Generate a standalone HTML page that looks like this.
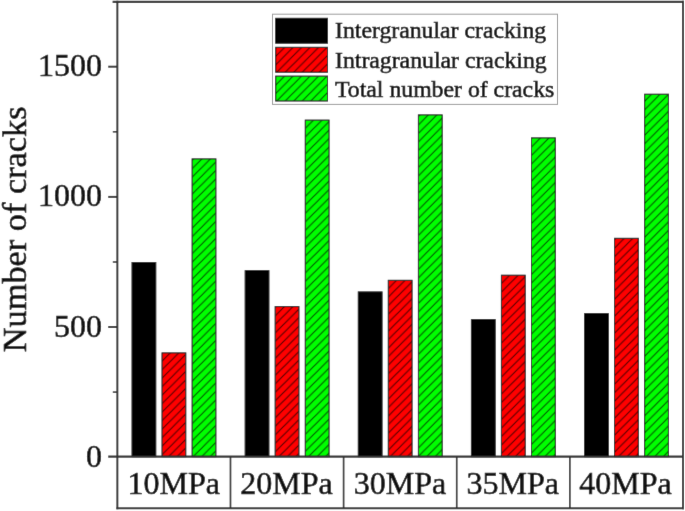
<!DOCTYPE html>
<html>
<head>
<meta charset="utf-8">
<style>
html,body{margin:0;padding:0;background:#fff;}
body{width:685px;height:511px;overflow:hidden;}
svg{display:block;}
#wrap{width:685px;height:511px;}
text{font-family:"Liberation Serif",serif;fill:#111;stroke:#111;stroke-width:0.6px;}
</style>
</head>
<body><div id="wrap">
<svg width="685" height="511" viewBox="0 0 685 511">
<defs>
<filter id="bl" filterUnits="userSpaceOnUse" x="-10" y="-10" width="705" height="531"><feConvolveMatrix order="3" kernelMatrix="0.0052 0.0619 0.0052 0.0619 0.7314 0.0619 0.0052 0.0619 0.0052" edgeMode="duplicate" preserveAlpha="true"/></filter>
<pattern id="p01" patternUnits="userSpaceOnUse" width="8.5" height="8.5" patternTransform="translate(162.31,352.40)"><rect width="8.5" height="8.5" fill="#ff0000"/><path d="M-1,9.5 L9.5,-1 M-4.25,4.25 L4.25,-4.25 M4.25,12.75 L12.75,4.25" stroke="#000" stroke-width="1.1" stroke-opacity="0.72"/></pattern>
<pattern id="p02" patternUnits="userSpaceOnUse" width="8.5" height="8.5" patternTransform="translate(192.41,159.90)"><rect width="8.5" height="8.5" fill="#00ff00"/><path d="M-1,9.5 L9.5,-1 M-4.25,4.25 L4.25,-4.25 M4.25,12.75 L12.75,4.25" stroke="#000" stroke-width="1.1" stroke-opacity="0.72"/></pattern>
<pattern id="p11" patternUnits="userSpaceOnUse" width="8.5" height="8.5" patternTransform="translate(275.44,307.10)"><rect width="8.5" height="8.5" fill="#ff0000"/><path d="M-1,9.5 L9.5,-1 M-4.25,4.25 L4.25,-4.25 M4.25,12.75 L12.75,4.25" stroke="#000" stroke-width="1.1" stroke-opacity="0.72"/></pattern>
<pattern id="p12" patternUnits="userSpaceOnUse" width="8.5" height="8.5" patternTransform="translate(305.55,119.60)"><rect width="8.5" height="8.5" fill="#00ff00"/><path d="M-1,9.5 L9.5,-1 M-4.25,4.25 L4.25,-4.25 M4.25,12.75 L12.75,4.25" stroke="#000" stroke-width="1.1" stroke-opacity="0.72"/></pattern>
<pattern id="p21" patternUnits="userSpaceOnUse" width="8.5" height="8.5" patternTransform="translate(388.57,279.80)"><rect width="8.5" height="8.5" fill="#ff0000"/><path d="M-1,9.5 L9.5,-1 M-4.25,4.25 L4.25,-4.25 M4.25,12.75 L12.75,4.25" stroke="#000" stroke-width="1.1" stroke-opacity="0.72"/></pattern>
<pattern id="p22" patternUnits="userSpaceOnUse" width="8.5" height="8.5" patternTransform="translate(418.68,116.10)"><rect width="8.5" height="8.5" fill="#00ff00"/><path d="M-1,9.5 L9.5,-1 M-4.25,4.25 L4.25,-4.25 M4.25,12.75 L12.75,4.25" stroke="#000" stroke-width="1.1" stroke-opacity="0.72"/></pattern>
<pattern id="p31" patternUnits="userSpaceOnUse" width="8.5" height="8.5" patternTransform="translate(501.70,274.70)"><rect width="8.5" height="8.5" fill="#ff0000"/><path d="M-1,9.5 L9.5,-1 M-4.25,4.25 L4.25,-4.25 M4.25,12.75 L12.75,4.25" stroke="#000" stroke-width="1.1" stroke-opacity="0.72"/></pattern>
<pattern id="p32" patternUnits="userSpaceOnUse" width="8.5" height="8.5" patternTransform="translate(531.80,138.10)"><rect width="8.5" height="8.5" fill="#00ff00"/><path d="M-1,9.5 L9.5,-1 M-4.25,4.25 L4.25,-4.25 M4.25,12.75 L12.75,4.25" stroke="#000" stroke-width="1.1" stroke-opacity="0.72"/></pattern>
<pattern id="p41" patternUnits="userSpaceOnUse" width="8.5" height="8.5" patternTransform="translate(614.83,239.30)"><rect width="8.5" height="8.5" fill="#ff0000"/><path d="M-1,9.5 L9.5,-1 M-4.25,4.25 L4.25,-4.25 M4.25,12.75 L12.75,4.25" stroke="#000" stroke-width="1.1" stroke-opacity="0.72"/></pattern>
<pattern id="p42" patternUnits="userSpaceOnUse" width="8.5" height="8.5" patternTransform="translate(644.93,92.40)"><rect width="8.5" height="8.5" fill="#00ff00"/><path d="M-1,9.5 L9.5,-1 M-4.25,4.25 L4.25,-4.25 M4.25,12.75 L12.75,4.25" stroke="#000" stroke-width="1.1" stroke-opacity="0.72"/></pattern>
<pattern id="lr" patternUnits="userSpaceOnUse" width="8.5" height="8.5" patternTransform="translate(276.00,47.50)"><rect width="8.5" height="8.5" fill="#ff0000"/><path d="M-1,9.5 L9.5,-1 M-4.25,4.25 L4.25,-4.25 M4.25,12.75 L12.75,4.25" stroke="#000" stroke-width="1.1" stroke-opacity="0.72"/></pattern>
<pattern id="lg" patternUnits="userSpaceOnUse" width="8.5" height="8.5" patternTransform="translate(276.00,76.20)"><rect width="8.5" height="8.5" fill="#00ff00"/><path d="M-1,9.5 L9.5,-1 M-4.25,4.25 L4.25,-4.25 M4.25,12.75 L12.75,4.25" stroke="#000" stroke-width="1.1" stroke-opacity="0.72"/></pattern>
</defs>
<g filter="url(#bl)">
<rect x="-10" y="-10" width="705" height="531" fill="#fff"/>
<g stroke="#000" stroke-width="1">
<rect x="132.01" y="262.50" width="23.80" height="194.20" fill="#000"/>
<rect x="162.01" y="352.90" width="23.80" height="103.80" fill="url(#p01)"/>
<rect x="192.11" y="158.90" width="23.80" height="297.80" fill="url(#p02)"/>
<rect x="245.14" y="270.70" width="23.80" height="186.00" fill="#000"/>
<rect x="275.14" y="306.60" width="23.80" height="150.10" fill="url(#p11)"/>
<rect x="305.25" y="120.10" width="23.80" height="336.60" fill="url(#p12)"/>
<rect x="358.27" y="291.90" width="23.80" height="164.80" fill="#000"/>
<rect x="388.27" y="280.30" width="23.80" height="176.40" fill="url(#p21)"/>
<rect x="418.38" y="114.90" width="23.80" height="341.80" fill="url(#p22)"/>
<rect x="471.40" y="319.60" width="23.80" height="137.10" fill="#000"/>
<rect x="501.40" y="275.20" width="23.80" height="181.50" fill="url(#p31)"/>
<rect x="531.50" y="137.90" width="23.80" height="318.80" fill="url(#p32)"/>
<rect x="584.53" y="313.60" width="23.80" height="143.10" fill="#000"/>
<rect x="614.53" y="238.30" width="23.80" height="218.40" fill="url(#p41)"/>
<rect x="644.63" y="94.20" width="23.80" height="362.50" fill="url(#p42)"/>
</g>
<g stroke="#333" fill="none">
<line x1="112.6" y1="1.85" x2="684" y2="1.85" stroke-width="2.3"/>
<line x1="117.35" y1="0.8" x2="117.35" y2="509.2" stroke-width="2"/>
<line x1="683.00" y1="0.8" x2="683.00" y2="509.2" stroke-width="2"/>
<line x1="108.2" y1="456.70" x2="683.00" y2="456.70" stroke-width="2.2"/>
<line x1="116.35" y1="508.20" x2="684.00" y2="508.20" stroke-width="2"/>
<line x1="108.2" y1="66.70" x2="117.35" y2="66.70" stroke-width="2"/>
<line x1="108.2" y1="196.90" x2="117.35" y2="196.90" stroke-width="2"/>
<line x1="108.2" y1="327.00" x2="117.35" y2="327.00" stroke-width="2"/>
<line x1="112.8" y1="131.80" x2="117.35" y2="131.80" stroke-width="1.6"/>
<line x1="112.8" y1="262.00" x2="117.35" y2="262.00" stroke-width="1.6"/>
<line x1="112.8" y1="392.10" x2="117.35" y2="392.10" stroke-width="1.6"/>
<line x1="230.48" y1="456.70" x2="230.48" y2="508.20" stroke-width="1.7"/>
<line x1="343.61" y1="456.70" x2="343.61" y2="508.20" stroke-width="1.7"/>
<line x1="456.74" y1="456.70" x2="456.74" y2="508.20" stroke-width="1.7"/>
<line x1="569.87" y1="456.70" x2="569.87" y2="508.20" stroke-width="1.7"/>
</g>
<rect x="272.5" y="14.2" width="285" height="90.2" fill="#fff" stroke="#999" stroke-width="1"/>
<g stroke="#000" stroke-width="1">
<rect x="275.7" y="18.3" width="51.8" height="24.9" fill="#000"/>
<rect x="275.7" y="47.3" width="51.8" height="24.9" fill="url(#lr)"/>
<rect x="275.7" y="76.1" width="51.8" height="24.9" fill="url(#lg)"/>
</g>
<g font-size="23.75">
<text x="335" y="38.4">Intergranular cracking</text>
<text x="335" y="67.9">Intragranular cracking</text>
<text x="335" y="97.2">Total number of cracks</text>
</g>
<g font-size="32" text-anchor="end">
<text x="102" y="76.1">1500</text>
<text x="102" y="206.3">1000</text>
<text x="102" y="336.6">500</text>
<text x="102" y="466.6">0</text>
</g>
<g font-size="32" text-anchor="middle">
<text x="173.8" y="494">10MPa</text>
<text x="286.5" y="494">20MPa</text>
<text x="399.9" y="494">30MPa</text>
<text x="512.8" y="494">35MPa</text>
<text x="625.6" y="494">40MPa</text>
</g>
<text transform="translate(26,352.2) rotate(-90)" font-size="34.3">Number of cracks</text>
</g>
</svg>
</div></body>
</html>
